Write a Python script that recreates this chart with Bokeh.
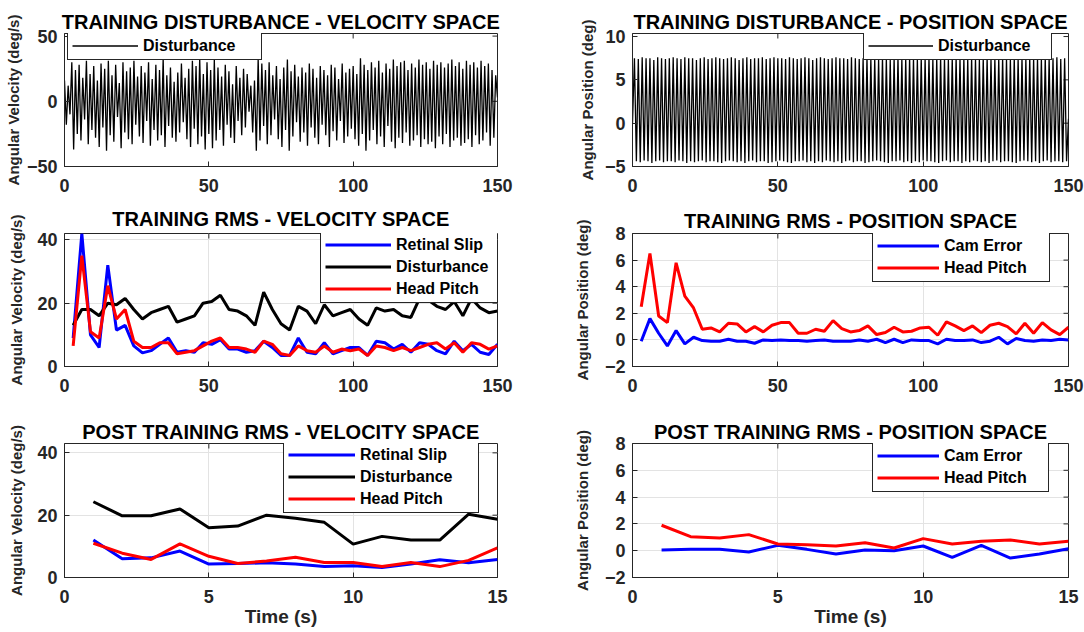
import numpy as np
from bokeh.plotting import figure
from bokeh.layouts import column, row
from bokeh.models import Range1d, FixedTicker
from bokeh.embed import file_html
from bokeh.resources import INLINE

FONT = "Liberation Sans"

# ---------------- data ----------------
# training disturbance, velocity space: successive extremes (deg/s)
vel_start = 16
vel_troughs = [-18, -10, -37, -25, -30, -14, -33, -22, -28, -35,
               -20, -38, -26, -31, -12, -36, -24, -29, -33, -18,
               -27, -32, -15, -34, -22, -30, -26, -35, -19, -28,
               -31, -24, -16, -29, -35, -21, -33, -27, -37, -25,
               -36, -30, -22, -34, -18, -28, -32, -15, -26, -20,
               -8, -24, -38, -30, -19, -33, -26, -14, -29, -35,
               -22, -38, -27, -16, -31, -24, -34, -20, -28, -33,
               -18, -26, -35, -23, -30, -15, -32, -27, -21, -29,
               -34, -25, -38, -30, -22, -33, -27, -35, -19, -31,
               -36, -28, -32, -24, -34, -30, -26, -35, -29, -33,
               -31, -36, -27, -33, -25, -35, -30, -28, -34, -32,
               -29, -35, -26, -33, -30, -24, -34, -28]
vel_peaks = [12, 30, 24, 28, 18, 31, 21, 27, 16, 29,
             25, 31, 20, 28, 14, 30, 23, 26, 31, 19,
             27, 22, 30, 17, 28, 24, 33, 20, 26, 15,
             22, 29, 18, 25, 31, 27, 33, 21, 30, 24,
             32, 26, 19, 28, 23, 13, 27, 18, 25, 21,
             12, 16, 33, 29, 24, 30, 20, 27, 17, 26,
             32, 23, 28, 19, 26, 22, 29, 25, 18, 27,
             24, 20, 28, 26, 17, 29, 22, 25, 27, 21,
             33, 28, 24, 30, 26, 31, 22, 29, 25, 32,
             27, 30, 31, 24, 29, 26, 32, 28, 30, 25,
             31, 28, 30, 26, 29, 32, 27, 30, 25, 31,
             28, 30, 26, 31, 27, 29, 24, 20]
vel_end = 3

# training disturbance, position space: successive extremes (deg)
pos_start = 0.0
pos_peaks = [7.5, 7.4, 7.6, 7.5, 7.5, 7.3, 7.6, 7.5, 7.4, 7.5,
             7.6, 7.5, 7.4, 7.6, 7.5, 7.5, 7.3, 7.5, 7.6, 7.4,
             7.5, 7.6, 7.5, 7.4, 7.5, 7.6, 7.5, 7.3, 7.5, 7.6,
             7.4, 7.5, 7.5, 7.6, 7.4, 7.5, 7.6, 7.5, 7.5, 7.4,
             7.6, 7.5, 7.4, 7.5, 7.6, 7.5, 7.3, 7.5, 7.6, 7.5,
             7.4, 7.5, 7.6, 7.5, 7.5, 7.4, 7.6, 7.5, 7.4, 7.5,
             7.6, 7.5, 7.5, 7.4, 7.6, 7.5, 7.3, 7.5, 7.6, 7.4,
             7.5, 7.6, 7.5, 7.4, 7.5, 7.5, 7.6, 7.4, 7.5, 7.6,
             7.5, 7.4, 7.5, 7.6, 7.5, 7.5, 7.4, 7.6, 7.5, 7.3,
             7.5, 7.6, 7.4, 7.5, 7.5, 7.6, 7.5, 7.4, 7.6, 7.5,
             7.5, 7.4, 7.6, 7.5, 7.5, 7.4, 7.6, 7.5, 7.5, 7.6,
             7.4, 7.5]
pos_troughs = [-4.4, -4.5, -4.3, -4.4, -4.6, -4.4, -4.3, -4.5, -4.4, -4.4,
               -4.5, -4.3, -4.4, -4.6, -4.4, -4.5, -4.4, -4.3, -4.5, -4.4,
               -4.4, -4.5, -4.6, -4.4, -4.3, -4.4, -4.5, -4.4, -4.6, -4.4,
               -4.3, -4.5, -4.4, -4.4, -4.6, -4.5, -4.4, -4.3, -4.4, -4.5,
               -4.6, -4.4, -4.4, -4.3, -4.5, -4.4, -4.6, -4.4, -4.5, -4.3,
               -4.4, -4.5, -4.4, -4.6, -4.4, -4.3, -4.5, -4.4, -4.4, -4.6,
               -4.5, -4.4, -4.3, -4.4, -4.5, -4.6, -4.4, -4.4, -4.3, -4.5,
               -4.4, -4.6, -4.4, -4.5, -4.3, -4.4, -4.4, -4.5, -4.6, -4.4,
               -4.3, -4.5, -4.4, -4.4, -4.6, -4.4, -4.5, -4.3, -4.4, -4.5,
               -4.4, -4.6, -4.4, -4.3, -4.5, -4.4, -4.4, -4.5, -4.6, -4.4,
               -4.3, -4.4, -4.5, -4.4, -4.6, -4.4, -4.3, -4.5, -4.4, -4.4,
               -4.5, -4.4]
pos_end = 0.5

# training RMS (every 3 s)
t_train = list(range(3, 151, 3))
slip_train = [9, 42, 10, 6, 32, 11.5, 13, 6.5, 4.3, 5,
              7, 9, 4.5, 5, 4.5, 7.5, 7, 8.5, 5.5, 5.5,
              4.5, 5, 8, 6, 3.5, 3.5, 9, 4.5, 4, 7.5,
              4, 5, 6, 6, 3.5, 8, 7.5, 5.5, 7, 4.5,
              7.5, 7, 5, 4, 8, 5, 7, 4.5, 3.8, 7]
dist_train = [13, 18, 18, 16, 20, 19.5, 21.5, 18, 15, 17,
              18, 19, 14, 15, 16, 20, 20.5, 22.5, 18, 17.5,
              16, 13, 23.5, 18, 13.5, 11.5, 19, 17.5, 13.5, 19.5,
              16, 17, 18, 15, 13, 18.5, 17.5, 18, 16, 15.5,
              21.5, 21, 19, 18, 20.5, 16, 21.5, 18.5, 17, 17.5]
pitchv_train = [6.5, 35, 11, 9, 25.5, 15, 18, 8, 6, 6,
                7.5, 7.5, 4, 4.5, 5, 6.5, 8, 9, 6, 6,
                5.5, 4.5, 8, 7, 4, 3.5, 6.5, 5, 4.5, 6.5,
                4.5, 5.5, 5, 5.5, 3.5, 6.5, 6, 5, 6, 5,
                6, 7, 7.5, 5.5, 7.5, 4.5, 7.5, 7, 5.5, 6.5]
cam_train = [-0.1, 1.6, 0.5, -0.45, 0.7, -0.3, 0.2, -0.05, -0.1, -0.1,
             0.05, -0.1, -0.1, -0.25, 0.0, -0.05, 0.0, -0.05, -0.05, -0.1,
             -0.05, 0.0, -0.1, -0.1, -0.1, 0.0, -0.1, 0.05, -0.2, 0.05,
             -0.2, 0.0, -0.05, -0.05, -0.3, 0.05, -0.05, -0.05, 0.0, -0.2,
             -0.1, 0.2, -0.3, 0.1, -0.05, -0.1, 0.0, -0.05, 0.05, 0.0]
pitchp_train = [2.5, 6.5, 1.8, 1.3, 5.8, 3.3, 2.4, 0.8, 0.9, 0.6,
                1.25, 1.2, 0.6, 1.0, 0.6, 1.1, 1.3, 1.3, 0.5, 0.5,
                0.8, 0.65, 1.45, 0.85, 0.6, 0.7, 1.05, 0.4, 0.55, 0.95,
                0.6, 0.65, 0.9, 0.95, 0.35, 1.35, 1.05, 0.7, 1.05, 0.55,
                1.1, 1.25, 1.0, 0.45, 1.25, 0.5, 1.3, 0.75, 0.4, 0.95]

# post-training RMS (every 1 s)
t_post = list(range(1, 16))
slip_post = [12, 6, 6.3, 8.5, 4.3, 4.5, 4.7, 4.3, 3.5, 3.8, 3.2, 4.3, 5.7, 4.7, 5.8]
dist_post = [24.3, 19.8, 19.8, 22, 16, 16.5, 20, 19, 17.7, 10.7, 13.2, 12, 12, 20.3, 18.7]
pitchv_post = [11, 7.8, 5.8, 10.8, 6.8, 4.5, 5.3, 6.5, 4.8, 4.8, 3.5, 4.8, 3.5, 5.5, 9.5]
cam_post = [0.05, 0.1, 0.1, -0.1, 0.4, 0.1, -0.25, 0.05, 0.0, 0.35, -0.5, 0.4, -0.55, -0.25, 0.15]
pitchp_post = [1.9, 1.05, 0.95, 1.2, 0.5, 0.45, 0.35, 0.6, 0.2, 0.9, 0.5, 0.7, 0.8, 0.5, 0.7]

# build disturbance traces from extremes
vel_y = [vel_start] + [v for pair in zip(vel_troughs, vel_peaks) for v in pair] + [vel_end]
vel_t = np.linspace(0, 150, len(vel_y))
pos_y = [pos_start] + [v for pair in zip(pos_peaks, pos_troughs) for v in pair] + [pos_end]
pos_t = np.linspace(0, 150, len(pos_y))

AX = "#262626"


def make_fig(width, height, borders, xr, yr, xticks, yticks, title, ylabel,
             title_standoff, ylabel_standoff, grid=True, xlabel=None, xstand=12):
    left, right, top, bottom = borders
    p = figure(width=width, height=height, x_range=Range1d(*xr), y_range=Range1d(*yr),
               output_backend="svg", toolbar_location=None,
               min_border_left=left, min_border_right=right,
               min_border_top=top, min_border_bottom=bottom)
    p.title.text = title
    p.title.align = "center"
    p.title.text_font = FONT
    p.title.text_font_size = "20px"
    p.title.text_font_style = "bold"
    p.title.text_color = "black"
    p.title.standoff = title_standoff
    for ax in (p.xaxis[0], p.yaxis[0]):
        ax.major_label_text_font = FONT
        ax.major_label_text_font_size = "18px"
        ax.major_label_text_font_style = "bold"
        ax.major_label_text_color = AX
        ax.axis_line_color = AX
        ax.major_tick_line_color = AX
        ax.major_tick_in = 5
        ax.major_tick_out = 0
        ax.minor_tick_line_color = None
        ax.axis_label_text_font = FONT
        ax.axis_label_text_font_style = "bold"
        ax.axis_label_text_color = AX
    xt = FixedTicker(ticks=xticks)
    yt = FixedTicker(ticks=yticks)
    p.xaxis.ticker = xt
    p.yaxis.ticker = yt
    p.xgrid.ticker = xt
    p.ygrid.ticker = yt
    p.xaxis.major_label_standoff = xstand
    p.yaxis.major_label_standoff = 7
    p.yaxis.axis_label = ylabel
    p.yaxis.axis_label_text_font_size = "15px"
    p.yaxis.axis_label_standoff = ylabel_standoff
    if xlabel:
        p.xaxis.axis_label = xlabel
        p.xaxis.axis_label_text_font_size = "19px"
        p.xaxis.axis_label_standoff = 0
    if grid:
        p.xgrid.grid_line_color = "#e3e3e3"
        p.ygrid.grid_line_color = "#e3e3e3"
    else:
        p.xgrid.grid_line_color = None
        p.ygrid.grid_line_color = None
    p.outline_line_color = AX
    p.outline_line_alpha = 1
    p.outline_line_width = 1
    p.background_fill_color = "white"
    p.border_fill_color = "white"

    # inward tick marks on the top and right edges of the box (MATLAB style)
    frame_w = width - left - right
    frame_h = height - top - bottom
    dx = 5 * (xr[1] - xr[0]) / frame_w
    dy = 5 * (yr[1] - yr[0]) / frame_h
    xin = [v for v in xticks if xr[0] < v < xr[1]]
    yin = [v for v in yticks if yr[0] < v < yr[1]]
    p.segment(x0=xin, y0=[yr[1]] * len(xin), x1=xin, y1=[yr[1] - dy] * len(xin),
              line_color=AX, line_width=1)
    p.segment(x0=[xr[1]] * len(yin), y0=yin, x1=[xr[1] - dx] * len(yin), y1=yin,
              line_color=AX, line_width=1)
    return p


def style_legend(p, loc, glyph_w, label_w):
    lg = p.legend[0]
    lg.location = loc
    lg.label_text_font = FONT
    lg.label_text_font_size = "16px"
    lg.label_text_font_style = "bold"
    lg.label_text_color = "black"
    lg.border_line_color = AX
    lg.border_line_width = 1
    lg.border_line_alpha = 1
    lg.background_fill_color = "white"
    lg.background_fill_alpha = 1
    lg.padding = 4
    lg.spacing = 3
    lg.margin = 0
    lg.glyph_width = glyph_w
    lg.glyph_height = 19
    lg.label_height = 19
    lg.label_width = label_w
    lg.label_standoff = 5


LW, RW = 540, 544
H1, H2, H3 = 200, 210, 222

# Row 1
p1 = make_fig(LW, H1, (64, 43, 33, 34), (0, 150), (-50, 52), [0, 50, 100, 150], [-50, 0, 50],
              "TRAINING DISTURBANCE - VELOCITY SPACE", "Angular Velocity (deg/s)",
              1, 2, grid=False)
p1.line(vel_t, vel_y, line_color="black", line_width=1.3, legend_label="Disturbance")
style_legend(p1, (3, 106), 66, 114)

p2 = make_fig(RW, H1, (92, 16, 33, 34), (0, 150), (-5, 10.35), [0, 50, 100, 150], [-5, 0, 5, 10],
              "TRAINING DISTURBANCE - POSITION SPACE", "Angular Position (deg)",
              1, 6, grid=False)
p2.line(pos_t, pos_y, line_color="black", line_width=1.3, legend_label="Disturbance")
style_legend(p2, (231, 106), 65, 109)

# Row 2
p3 = make_fig(LW, H2, (64, 43, 33, 44), (0, 150), (0, 42), [0, 50, 100, 150], [0, 20, 40],
              "TRAINING RMS - VELOCITY SPACE", "Angular Velocity (deg/s)", 8, 9)
p3.line(t_train, slip_train, line_color="blue", line_width=3, legend_label="Retinal Slip")
p3.line(t_train, dist_train, line_color="black", line_width=3, legend_label="Disturbance")
p3.line(t_train, pitchv_train, line_color="red", line_width=3, legend_label="Head Pitch")
style_legend(p3, (256, 63), 66, 97)

p4 = make_fig(RW, H2, (92, 16, 33, 44), (0, 150), (-2, 8), [0, 50, 100, 150], [-2, 0, 2, 4, 6, 8],
              "TRAINING RMS - POSITION SPACE", "Angular Position (deg)", 3, 11)
p4.line(t_train, cam_train, line_color="blue", line_width=3, legend_label="Cam Error")
p4.line(t_train, pitchp_train, line_color="red", line_width=3, legend_label="Head Pitch")
style_legend(p4, (240, 84), 62, 101)

# Row 3
p5 = make_fig(LW, H3, (64, 43, 33, 55), (0, 15), (0, 43), [0, 5, 10, 15], [0, 20, 40],
              "POST TRAINING RMS - VELOCITY SPACE", "Angular Velocity (deg/s)", 1, 9,
              xlabel="Time (s)", xstand=12)
p5.line(t_post, slip_post, line_color="blue", line_width=3, legend_label="Retinal Slip")
p5.line(t_post, dist_post, line_color="black", line_width=3, legend_label="Disturbance")
p5.line(t_post, pitchv_post, line_color="red", line_width=3, legend_label="Head Pitch")
style_legend(p5, (219, 64), 67, 114)

p6 = make_fig(RW, H3, (92, 16, 33, 55), (0, 15), (-2, 8), [0, 5, 10, 15], [-2, 0, 2, 4, 6, 8],
              "POST TRAINING RMS - POSITION SPACE", "Angular Position (deg)", 2, 11,
              xlabel="Time (s)", xstand=12)
p6.line(t_post, cam_post, line_color="blue", line_width=3, legend_label="Cam Error")
p6.line(t_post, pitchp_post, line_color="red", line_width=3, legend_label="Head Pitch")
style_legend(p6, (240, 85), 62, 100)

layout = column(row(p1, p2), row(p3, p4), row(p5, p6))
open("out.html", "w").write(file_html(layout, INLINE))
